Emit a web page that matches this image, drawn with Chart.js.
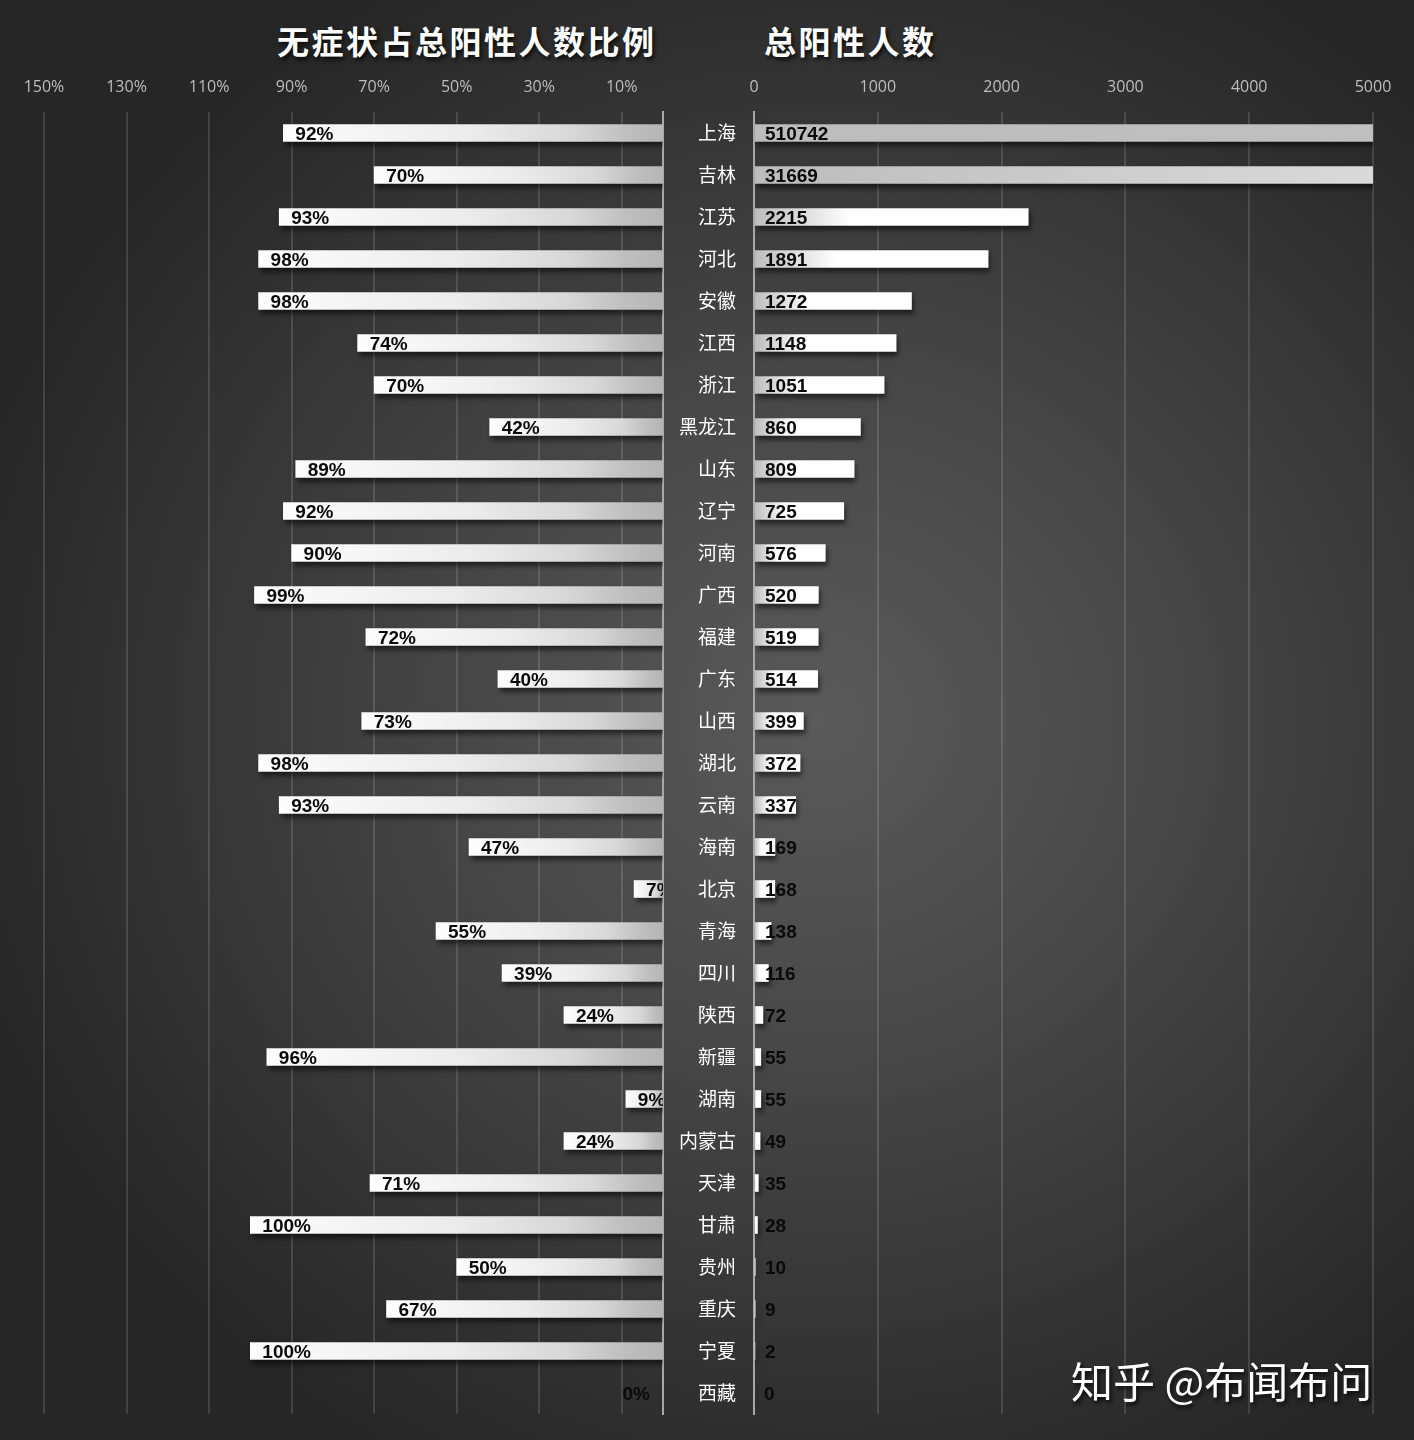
<!DOCTYPE html>
<html lang="zh-CN">
<head>
<meta charset="utf-8">
<title>无症状占总阳性人数比例 / 总阳性人数</title>
<script src="https://cdn.jsdelivr.net/npm/chart.js@4.4.1/dist/chart.umd.min.js"></script>
<style>
  html, body { margin: 0; padding: 0; }
  body {
    width: 1414px; height: 1440px; position: relative; overflow: hidden;
    background: radial-gradient(ellipse 62% 58% at 58% 50%, #5a5a5a 0%, #4a4a4a 35%, #343434 75%, #262626 100%);
    font-family: "Noto Sans CJK SC", sans-serif;
  }
  .title {
    position: absolute; top: 18px; color: #fff; font-size: 32px; font-weight: bold;
    letter-spacing: 2.5px; line-height: 44px; white-space: nowrap;
    text-shadow: 2px 3px 4px rgba(0,0,0,0.8);
  }
  #leftTitle { left: 277px; }
  #rightTitle { left: 764px; }
  #watermark {
    position: absolute; left: 1071px; top: 1352px; color: #fff; font-size: 42px;
    line-height: 56px; white-space: nowrap; text-shadow: 2px 3px 4px rgba(0,0,0,0.8);
  }
  canvas { position: absolute; top: 0; }
  #left { left: 0; }
  #right { left: 663px; }
</style>
</head>
<body>
<div class="title" id="leftTitle">无症状占总阳性人数比例</div>
<div class="title" id="rightTitle">总阳性人数</div>
<canvas id="left" width="680" height="1440"></canvas>
<canvas id="right" width="751" height="1440"></canvas>
<div id="watermark">知乎 @布闻布问</div>
<script>
const provinces = ['上海', '吉林', '江苏', '河北', '安徽', '江西', '浙江', '黑龙江', '山东', '辽宁',
  '河南', '广西', '福建', '广东', '山西', '湖北', '云南', '海南', '北京', '青海',
  '四川', '陕西', '新疆', '湖南', '内蒙古', '天津', '甘肃', '贵州', '重庆', '宁夏', '西藏'];
const asymRatio = [92, 70, 93, 98, 98, 74, 70, 42, 89, 92,
  90, 99, 72, 40, 73, 98, 93, 47, 7, 55,
  39, 24, 96, 9, 24, 71, 100, 50, 67, 100, 0];
const totalCases = [510742, 31669, 2215, 1891, 1272, 1148, 1051, 860, 809, 725,
  576, 520, 519, 514, 399, 372, 337, 169, 168, 138,
  116, 72, 55, 55, 49, 35, 28, 10, 9, 2, 0];
const ratioTicks = [10, 30, 50, 70, 90, 110, 130, 150];
const totalTicks = [0, 1000, 2000, 3000, 4000, 5000];

const tickFont = { family: 'Open Sans', size: 16 };
const gridLine = { color: 'rgba(255,255,255,0.13)', lineWidth: 2, drawTicks: false };

// gradient along each bar, from its base to its end
function barFill(stops) {
  return function (c) {
    const chart = c.chart;
    const x = chart.scales.x;
    if (!x || c.type !== 'data' || typeof c.raw !== 'number') return stops[0][1];
    const x0 = x.getPixelForValue(0);
    const x1 = x.getPixelForValue(c.raw);
    if (!isFinite(x0) || !isFinite(x1) || Math.abs(x1 - x0) < 1) return stops[0][1];
    const g = chart.ctx.createLinearGradient(x0, 0, x1, 0);
    stops.forEach(s => g.addColorStop(s[0], s[1]));
    return g;
  };
}

const barShadow = {
  id: 'barShadow',
  beforeDatasetDraw(chart) {
    const ctx = chart.ctx;
    ctx.save();
    ctx.shadowColor = 'rgba(0,0,0,0.55)';
    ctx.shadowOffsetX = 2;
    ctx.shadowOffsetY = 4;
    ctx.shadowBlur = 5;
  },
  afterDatasetDraw(chart) {
    chart.ctx.restore();
  }
};

const barLabels = {
  id: 'barLabels',
  afterDatasetsDraw(chart, args, opts) {
    const ctx = chart.ctx;
    const area = chart.chartArea;
    const values = chart.data.datasets[0].data;
    ctx.save();
    if (opts.clip) {
      ctx.beginPath();
      ctx.rect(area.left, area.top, area.right - area.left, area.bottom - area.top);
      ctx.clip();
    }
    ctx.font = 'bold 19px "Liberation Sans", Arial, sans-serif';
    ctx.fillStyle = '#0a0a0a';
    ctx.textBaseline = 'middle';
    chart.getDatasetMeta(0).data.forEach((bar, i) => {
      const v = values[i];
      const text = opts.format(v);
      if (opts.side === 'end') {
        if (v === 0) {
          ctx.textAlign = 'right';
          ctx.fillText(text, bar.base - 13, bar.y + 2);
        } else {
          ctx.textAlign = 'left';
          ctx.fillText(text, bar.x + 12, bar.y + 2);
        }
      } else {
        ctx.textAlign = 'left';
        ctx.fillText(text, bar.base + 10, bar.y + 2);
      }
    });
    ctx.restore();
  }
};

new Chart(document.getElementById('left'), {
  type: 'bar',
  data: {
    labels: provinces,
    datasets: [{
      data: asymRatio,
      backgroundColor: barFill([[0, '#b5b5b5'], [0.1, '#c0c0c0'], [0.24, '#d8d8d8'], [0.5, '#ebebeb'], [1, '#fdfdfd']]),
      barThickness: 17,
      borderWidth: 0
    }]
  },
  options: {
    indexAxis: 'y',
    responsive: false,
    animation: false,
    layout: { padding: { left: 44, right: 17, top: 0, bottom: 26 } },
    plugins: {
      legend: { display: false },
      tooltip: { enabled: false },
      barLabels: { side: 'end', clip: true, format: v => v + '%' }
    },
    scales: {
      x: {
        position: 'top',
        reverse: true,
        min: 0,
        max: 150,
        afterBuildTicks: s => { s.ticks = ratioTicks.map(v => ({ value: v })); },
        afterFit: s => { s.height = 112; },
        ticks: { color: '#bdbdbd', font: tickFont, padding: 15, autoSkip: false, maxRotation: 0, callback: v => v + '%' },
        grid: gridLine,
        border: { display: false }
      },
      y: {
        position: 'right',
        afterFit: s => { s.width = 0; },
        ticks: { display: false },
        grid: { display: false },
        border: { color: '#a8a8a8', width: 2 }
      }
    }
  },
  plugins: [barShadow, barLabels]
});

new Chart(document.getElementById('right'), {
  type: 'bar',
  data: {
    labels: provinces,
    datasets: [{
      data: totalCases,
      backgroundColor: barFill([[0, '#bcbcbc'], [0.16, '#dadada'], [0.35, '#ffffff'], [1, '#ffffff']]),
      barThickness: 17,
      borderWidth: 0
    }]
  },
  options: {
    indexAxis: 'y',
    responsive: false,
    animation: false,
    layout: { padding: { left: 0, right: 41, top: 0, bottom: 26 } },
    plugins: {
      legend: { display: false },
      tooltip: { enabled: false },
      barLabels: { side: 'base', clip: false, format: v => String(v) }
    },
    scales: {
      x: {
        position: 'top',
        min: 0,
        max: 5000,
        afterBuildTicks: s => { s.ticks = totalTicks.map(v => ({ value: v })); },
        afterFit: s => { s.height = 112; },
        ticks: { color: '#bdbdbd', font: tickFont, padding: 15, autoSkip: false, maxRotation: 0, callback: v => String(v) },
        grid: gridLine,
        border: { display: false }
      },
      y: {
        position: 'left',
        afterFit: s => { s.width = 91; },
        ticks: { color: '#ffffff', font: { family: 'Noto Sans CJK SC', size: 19 }, padding: 10, autoSkip: false },
        grid: { display: false },
        border: { color: '#a8a8a8', width: 2 }
      }
    }
  },
  plugins: [barShadow, barLabels]
});
</script>
</body>
</html>
